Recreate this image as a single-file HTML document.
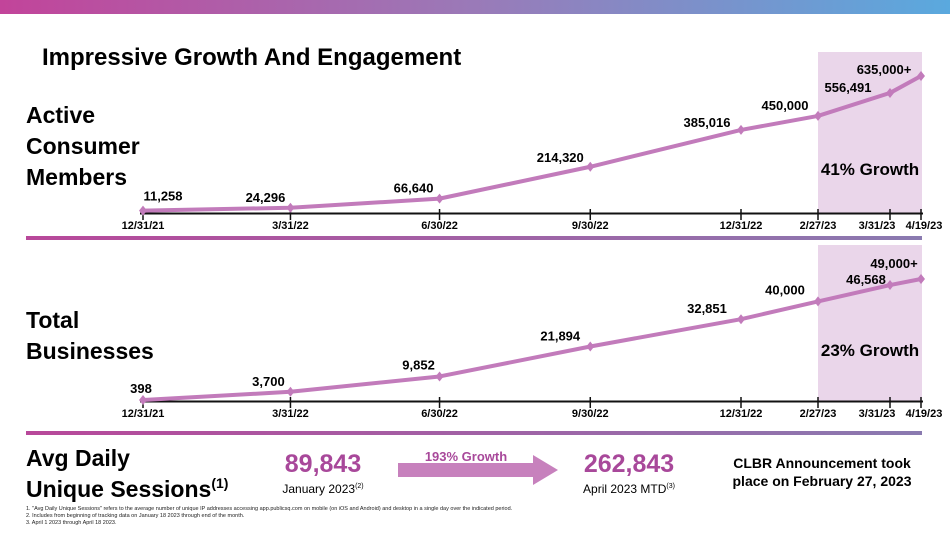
<!DOCTYPE html>
<html><head><meta charset="utf-8"><style>
body{margin:0;background:#fff;}
svg{display:block;font-family:"Liberation Sans",sans-serif;}
</style></head><body>
<svg width="950" height="534" viewBox="0 0 950 534" id="s">
<defs>
<linearGradient id="gTop" x1="0" x2="1"><stop offset="0" stop-color="#c2449a"/><stop offset="0.5" stop-color="#9a7ab8"/><stop offset="1" stop-color="#5aa9de"/></linearGradient>
<linearGradient id="gDiv" x1="0" x2="1"><stop offset="0" stop-color="#b8489a"/><stop offset="1" stop-color="#8a7ab0"/></linearGradient>
</defs>
<rect x="0" y="0" width="950" height="14" fill="url(#gTop)"/>
<text x="42" y="65" font-size="24" font-weight="bold" fill="#000">Impressive Growth And Engagement</text>

<g font-size="23" font-weight="bold" fill="#000">
<text x="26" y="123">Active</text>
<text x="26" y="154">Consumer</text>
<text x="26" y="185">Members</text>
<text x="26" y="328">Total</text>
<text x="26" y="359">Businesses</text>
<text x="26" y="466">Avg Daily</text>
<text x="26" y="497">Unique Sessions<tspan font-size="14" dy="-9">(1)</tspan></text>
</g>

<rect x="818" y="52" width="104" height="161" fill="#ead6ea"/>
<rect x="818" y="245" width="104" height="156" fill="#ead6ea"/>
<text x="870" y="175" font-size="17" font-weight="bold" text-anchor="middle">41% Growth</text>
<text x="870" y="356" font-size="17" font-weight="bold" text-anchor="middle">23% Growth</text>

<rect x="26" y="236" width="896" height="4" fill="url(#gDiv)"/>
<rect x="26" y="431" width="896" height="4" fill="url(#gDiv)"/>

<g id="c1"></g><g id="c2"></g>

<text x="323" y="472" font-size="25" font-weight="bold" fill="#a8489a" text-anchor="middle">89,843</text>
<text x="323" y="493" font-size="12" text-anchor="middle">January 2023<tspan font-size="7" dy="-5">(2)</tspan></text>
<polygon points="398,463 533,463 533,455 558,470 533,485 533,477 398,477" fill="#c781bd"/>
<text x="466" y="461" font-size="13" font-weight="bold" fill="#a8489a" text-anchor="middle">193% Growth</text>
<text x="629" y="472" font-size="25" font-weight="bold" fill="#a8489a" text-anchor="middle">262,843</text>
<text x="629" y="493" font-size="12" text-anchor="middle">April 2023 MTD<tspan font-size="7" dy="-5">(3)</tspan></text>
<text x="822" y="468" font-size="14" font-weight="bold" text-anchor="middle">CLBR Announcement took</text>
<text x="822" y="486" font-size="14" font-weight="bold" text-anchor="middle">place on February 27, 2023</text>
<g font-size="5.5" fill="#222">
<text x="26" y="510">1. "Avg Daily Unique Sessions" refers to the average number of unique IP addresses accessing app.publicsq.com on mobile (on iOS and Android) and desktop in a single day over the indicated period.</text>
<text x="26" y="517">2. Includes from beginning of tracking data on January 18 2023 through end of the month.</text>
<text x="26" y="524">3. April 1 2023 through April 18 2023.</text>
</g>
</svg>
<script>
const dates=["12/31/21","3/31/22","6/30/22","9/30/22","12/31/22","2/27/23","3/31/23","4/19/23"];
const dayIndex=[0,90,181,273,365,423,455,474];
const consumers=[11258,24296,66640,214320,385016,450000,556491,635000];
const consumerLabels=["11,258","24,296","66,640","214,320","385,016","450,000","556,491","635,000+"];
const businesses=[398,3700,9852,21894,32851,40000,46568,49000];
const businessLabels=["398","3,700","9,852","21,894","32,851","40,000","46,568","49,000+"];
const NS="http://www.w3.org/2000/svg";
// piecewise time axis (slide compresses 2023 segment)
function xs(d){
  if(d<=365) return 143+d/365*(741-143);
  if(d<=423) return 741+(d-365)/58*77;
  if(d<=455) return 818+(d-423)/32*72;
  return 890+(d-455)/19*31;
}
function mk(tag,at,par){const e=document.createElementNS(NS,tag);for(const k in at)e.setAttribute(k,at[k]);par.appendChild(e);return e;}
function draw(gid,vals,labs,base,max,h,offs,prefix,fs){
  const g=document.getElementById(gid);
  const ys=v=>base-(v/max)*h;
  const ax=mk('line',{x1:140,x2:923,y1:base+0.5,y2:base+0.5,stroke:'#111','stroke-width':2},g);
  
  
  dates.forEach((d,i)=>{
    const x=xs(dayIndex[i]);
    const t=mk('line',{x1:x,x2:x,y1:base-4,y2:base+7,stroke:'#111','stroke-width':1.5},g);
    
    
    let tx=x; if(i==6)tx=x-13; if(i==7)tx=x+3;
    const l=mk('text',{x:tx,y:base+16,'font-size':11,'font-weight':'bold','text-anchor':'middle'},g);
    l.textContent=d;
    
    
  });
  const pts=vals.map((v,i)=>xs(dayIndex[i])+','+ys(v)).join(' ');
  const pl=mk('polyline',{points:pts,fill:'none',stroke:'#c27bbb','stroke-width':4,'stroke-linejoin':'round'},g);
  
  
  vals.forEach((v,i)=>{
    const x=xs(dayIndex[i]),y=ys(v);
    const p=mk('polygon',{points:`${x},${y-5} ${x+4},${y} ${x},${y+5} ${x-4},${y}`,fill:'#c27bbb'},g);
    
    
    const t=mk('text',{x:x+offs[i][0],y:y+offs[i][1],'font-size':fs,'font-weight':'bold','text-anchor':'middle'},g);
    t.textContent=labs[i];
    
    
  });
}
draw('c1',consumers,consumerLabels,213,635000,137,[[20,-10],[-25,-6],[-26,-6],[-30,-5],[-34,-3],[-33,-6],[-42,-1],[-37,-2]],'consumer',13);
draw('c2',businesses,businessLabels,401,49000,122,[[-2,-7],[-22,-6],[-21,-7],[-30,-6],[-34,-6],[-33,-7],[-24,-1],[-27,-11]],'business',13);
</script>
</body></html>
